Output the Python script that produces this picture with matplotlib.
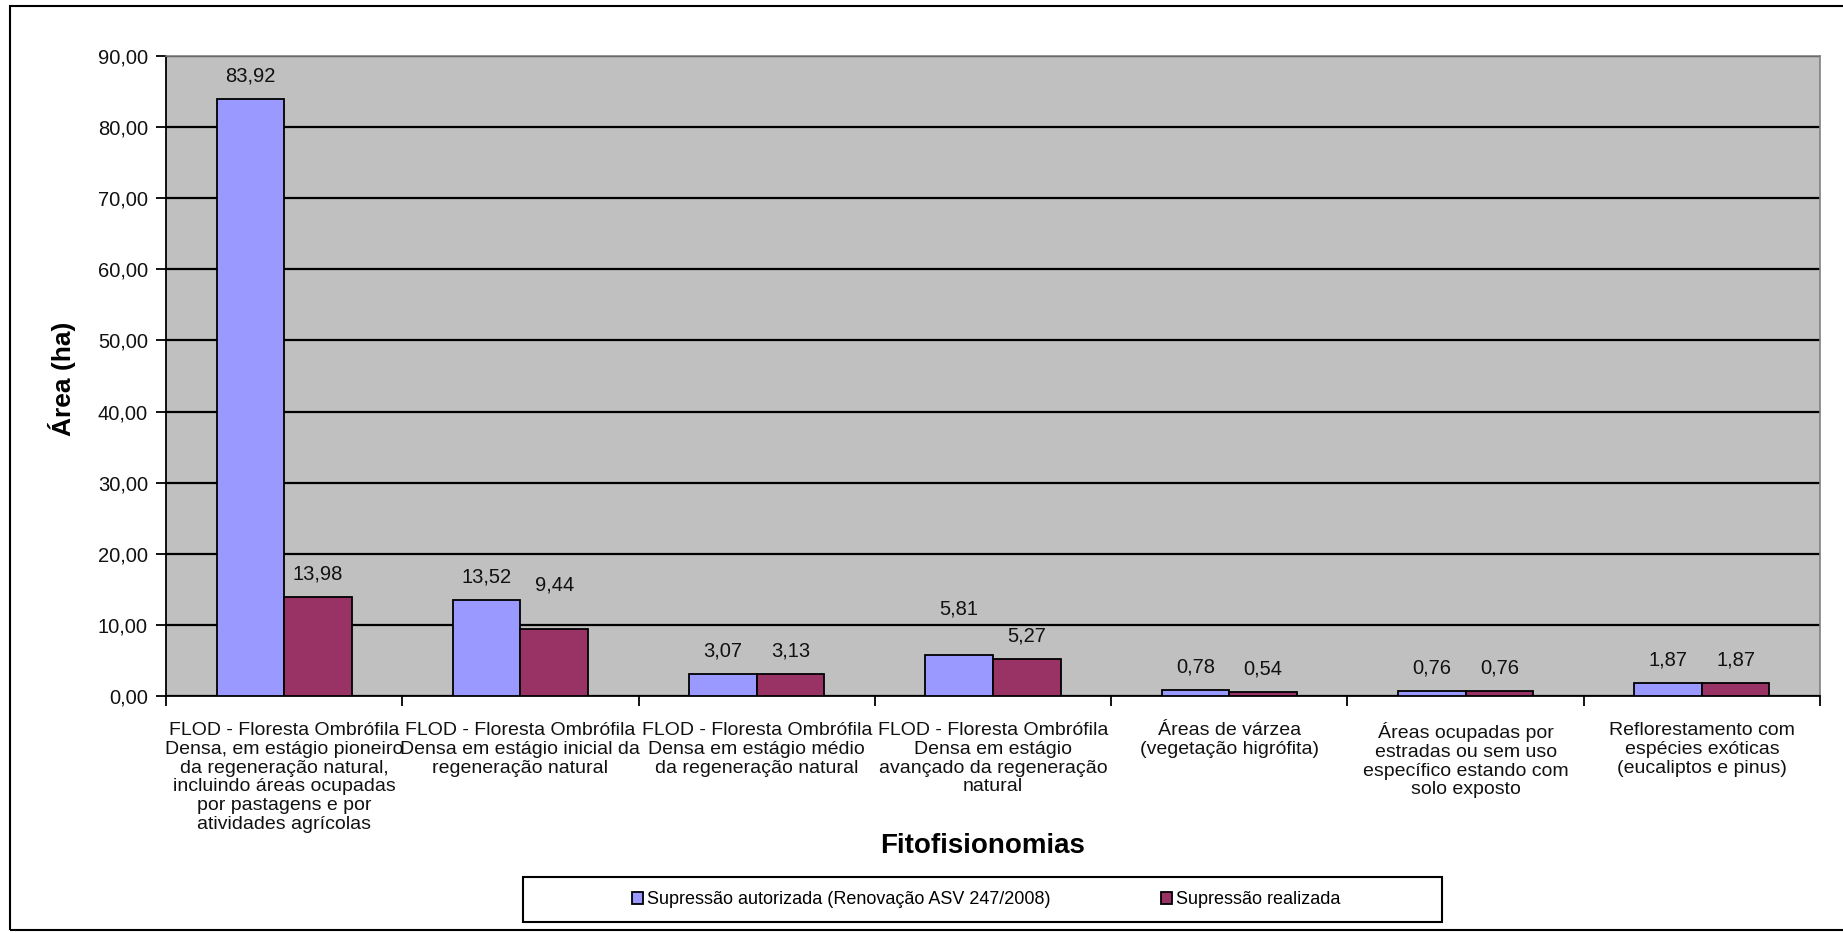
import matplotlib
matplotlib.use('Agg')
import matplotlib.pyplot as plt
from matplotlib.patches import Rectangle
from matplotlib.ticker import FuncFormatter
import numpy as np

categories = [
    "FLOD - Floresta Ombrófila\nDensa, em estágio pioneiro\nda regeneração natural,\nincluindo áreas ocupadas\npor pastagens e por\natividades agrícolas",
    "FLOD - Floresta Ombrófila\nDensa em estágio inicial da\nregeneração natural",
    "FLOD - Floresta Ombrófila\nDensa em estágio médio\nda regeneração natural",
    "FLOD - Floresta Ombrófila\nDensa em estágio\navançado da regeneração\nnatural",
    "Áreas de várzea\n(vegetação higrófita)",
    "Áreas ocupadas por\nestradas ou sem uso\nespecífico estando com\nsolo exposto",
    "Reflorestamento com\nespécies exóticas\n(eucaliptos e pinus)",
]
autorizada = [83.92, 13.52, 3.07, 5.81, 0.78, 0.76, 1.87]
realizada = [13.98, 9.44, 3.13, 5.27, 0.54, 0.76, 1.87]
series_names = ["Supressão autorizada (Renovação ASV 247/2008)", "Supressão realizada"]
y_ticks = [0, 10, 20, 30, 40, 50, 60, 70, 80, 90]
y_label = "Área (ha)"
x_label = "Fitofisionomias"

# label offsets in pixels above bar tops (Excel labels were nudged for two bars)
off_autorizada = [23, 23, 23, 46, 23, 23, 23]
off_realizada = [23, 44, 23, 23, 23, 23, 23]

plt.rcParams['font.family'] = ['Liberation Sans', 'DejaVu Sans']

W, H = 1843, 933
fig = plt.figure(figsize=(W / 100, H / 100), dpi=100)
fig.patch.set_facecolor('white')

def fx(px):
    return px / W

def fy(py):
    return 1 - py / H

# outer chart border
fig.patches.append(Rectangle((fx(10), fy(930)), 1.0, fy(6) - fy(930),
                             transform=fig.transFigure, fill=False,
                             edgecolor='black', linewidth=1.5))

ax = fig.add_axes([fx(166), fy(696), fx(1820) - fx(166), fy(56) - fy(696)])
ax.set_facecolor('#C0C0C0')

n = len(categories)
x = np.arange(n)
w = 0.286
b1 = ax.bar(x + 0.5 - w / 2, autorizada, w, color='#9999FF', edgecolor='black',
            linewidth=1.3, zorder=3, label=series_names[0])
b2 = ax.bar(x + 0.5 + w / 2, realizada, w, color='#993366', edgecolor='black',
            linewidth=1.3, zorder=3, label=series_names[1])

ax.set_xlim(0, n)
ax.set_ylim(y_ticks[0], y_ticks[-1])
ax.set_yticks(y_ticks)
ax.yaxis.set_major_formatter(FuncFormatter(lambda v, p: f"{v:.2f}".replace('.', ',')))
ax.grid(axis='y', color='black', linewidth=1.6, zorder=1)
ax.set_axisbelow(True)

ax.set_xticks(np.arange(n + 1))
ax.set_xticklabels([])
ax.set_xticks(x + 0.5, minor=True)
ax.set_xticklabels(categories, minor=True, fontsize=14, linespacing=1.13, color='#111111')
ax.tick_params(axis='x', which='major', length=7, width=1.3, direction='out')
ax.tick_params(axis='x', which='minor', length=0, pad=19)
ax.tick_params(axis='y', length=7, width=1.3, labelsize=14.5, pad=6, labelcolor='#111111')

for side in ['left', 'bottom']:
    ax.spines[side].set_color('black')
    ax.spines[side].set_linewidth(1.3)
for side in ['top', 'right']:
    ax.spines[side].set_color('#808080')
    ax.spines[side].set_linewidth(1.2)

for bars, vals, offs in [(b1, autorizada, off_autorizada), (b2, realizada, off_realizada)]:
    for r, v, o in zip(bars, vals, offs):
        ax.annotate(f"{v:.2f}".replace('.', ','),
                    (r.get_x() + r.get_width() / 2, v),
                    xytext=(0, o), textcoords='offset pixels',
                    ha='center', va='center', fontsize=14.5, color='#111111')

fig.text(fx(62), fy(379), y_label, rotation=90, ha='center', va='center',
         fontsize=19, fontweight='bold')
fig.text(fx(983), fy(853), x_label, ha='center', va='baseline',
         fontsize=20, fontweight='bold')

# legend box
fig.patches.append(Rectangle((fx(523), fy(922)), fx(1442) - fx(523), fy(877) - fy(922),
                             transform=fig.transFigure, facecolor='white',
                             edgecolor='black', linewidth=1.5))
leg = fig.legend(handles=[b1, b2], labels=series_names, ncol=2, frameon=False,
                 loc='center', bbox_to_anchor=(fx(986), fy(900)),
                 fontsize=13, handlelength=0.65, handleheight=0.65,
                 handletextpad=0.2, columnspacing=6.1, borderpad=0)

fig.savefig('out.png', dpi=100)
